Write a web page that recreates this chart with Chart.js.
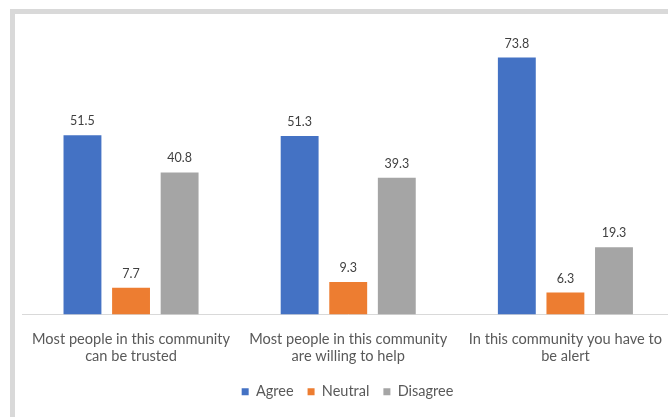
<!DOCTYPE html>
<html>
<head>
<meta charset="utf-8">
<script src="https://cdn.jsdelivr.net/npm/chart.js@4/dist/chart.umd.min.js"></script>
<style>
  html, body { margin: 0; padding: 0; background: #fff; overflow: hidden; width: 668px; height: 417px; }
  #frame { position: absolute; left: 10px; top: 9px; width: 700px; height: 420px;
           border-left: 5px solid #d9d9d9; border-top: 5px solid #d9d9d9; box-sizing: border-box; }
  #wrap { position: absolute; left: 15px; top: 14px; width: 665px; height: 403px; }
</style>
</head>
<body>
<div id="frame"></div>
<div id="wrap"><canvas id="c"></canvas></div>
<script>
const categories = [
  ["Most people in this community", "can be trusted"],
  ["Most people in this community", "are willing to help"],
  ["In this community you have to", "be alert"]
];
const seriesNames = ["Agree", "Neutral", "Disagree"];
const agreeValues = [51.5, 51.3, 73.8];
const neutralValues = [7.7, 9.3, 6.3];
const disagreeValues = [40.8, 39.3, 19.3];
const seriesColors = ["#4472C4", "#ED7D31", "#A5A5A5"];

const valueLabels = {
  id: 'valueLabels',
  afterDatasetsDraw(chart) {
    const ctx = chart.ctx;
    ctx.save();
    ctx.font = '12.5px Lato';
    ctx.fillStyle = '#404040';
    ctx.textAlign = 'center';
    ctx.textBaseline = 'middle';
    chart.data.datasets.forEach((ds, i) => {
      const meta = chart.getDatasetMeta(i);
      meta.data.forEach((bar, j) => {
        ctx.fillText(ds.data[j].toFixed(1), bar.x, bar.y - 14);
      });
    });
    ctx.restore();
  }
};

const allValues = [agreeValues, neutralValues, disagreeValues];
new Chart(document.getElementById('c'), {
  type: 'bar',
  data: {
    labels: categories,
    datasets: seriesNames.map((n, i) => ({
      label: n,
      data: allValues[i],
      backgroundColor: seriesColors[i],
      borderWidth: 0,
      categoryPercentage: 0.671,
      barPercentage: 0.78
    }))
  },
  options: {
    responsive: true,
    maintainAspectRatio: false,
    animation: false,
    layout: { padding: { left: 6, right: 6, top: 22, bottom: 8 } },
    scales: {
      x: {
        grid: { display: false, drawTicks: false },
        border: { display: true, color: '#d9d9d9', width: 1 },
        ticks: { color: '#595959', font: { family: 'Lato', size: 14.6 }, padding: 16, maxRotation: 0, autoSkip: false },
        afterFit(scale) { scale.height = 56; }
      },
      y: { display: false, min: 0, max: 80 }
    },
    plugins: {
      legend: {
        position: 'bottom',
        labels: { color: '#595959', font: { family: 'Lato', size: 14.5 }, boxWidth: 7, boxHeight: 7, padding: 14 }
      },
      tooltip: { enabled: false }
    }
  },
  plugins: [valueLabels]
});
</script>
</body>
</html>
